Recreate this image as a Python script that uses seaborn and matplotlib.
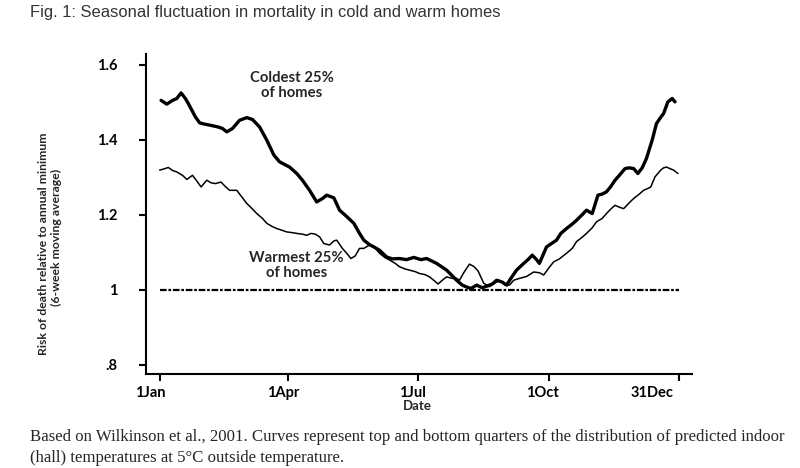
import numpy as np
import pandas as pd
import matplotlib
matplotlib.use("Agg")
import matplotlib.pyplot as plt
import matplotlib.transforms as mtransforms
import seaborn as sns

# day of year (0 = 1 Jan) and risk
cold_days = [1, 5, 9, 12, 15, 18, 20, 25, 28, 31, 35, 41, 44, 47, 51, 56, 61, 65, 70, 75,
             80, 84, 91, 96, 100, 105, 110, 114, 117, 122, 126, 131, 136, 140, 143, 147, 150,
             154, 159, 163, 168, 173, 178, 183, 187, 194, 201, 208, 212, 215, 218, 222, 226,
             229, 233, 236, 240, 243, 246, 250, 255, 258, 261, 264, 266, 271, 278, 281, 285,
             289, 292, 296, 299, 303, 307, 310, 313, 316, 319, 322, 326, 329, 332, 335, 338,
             341, 345, 348, 351, 353, 356, 359, 361]
cold_risk = [1.505, 1.495, 1.505, 1.51, 1.525, 1.51, 1.497, 1.461, 1.445, 1.442, 1.439, 1.434,
             1.43, 1.421, 1.43, 1.452, 1.459, 1.454, 1.434, 1.399, 1.359, 1.341, 1.327, 1.31,
             1.292, 1.265, 1.234, 1.243, 1.252, 1.245, 1.212, 1.195, 1.177, 1.15, 1.132, 1.12,
             1.114, 1.105, 1.087, 1.082, 1.083, 1.08, 1.086, 1.08, 1.083, 1.07, 1.052, 1.025,
             1.012, 1.007, 1.003, 1.012, 1.005, 1.009, 1.015, 1.025, 1.02, 1.012, 1.03, 1.052,
             1.07, 1.08, 1.092, 1.08, 1.07, 1.114, 1.132, 1.15, 1.163, 1.175, 1.185, 1.2, 1.212,
             1.203, 1.252, 1.255, 1.261, 1.275, 1.292, 1.305, 1.323, 1.325, 1.323, 1.31, 1.325,
             1.35, 1.399, 1.443, 1.46, 1.47, 1.501, 1.51, 1.501]

warm_days = [0, 3, 6, 9, 12, 16, 19, 23, 26, 29, 33, 36, 39, 43, 46, 49, 54, 58, 61, 65, 68,
             72, 75, 79, 82, 86, 89, 93, 96, 100, 103, 106, 109, 112, 115, 119, 122, 124, 128,
             131, 134, 137, 140, 143, 147, 150, 154, 158, 161, 165, 168, 172, 175, 179, 182,
             186, 189, 192, 195, 198, 201, 205, 208, 210, 213, 217, 220, 223, 227, 231, 235,
             238, 242, 245, 248, 252, 257, 262, 266, 269, 273, 276, 280, 285, 289, 292, 296,
             299, 303, 306, 310, 313, 316, 319, 322, 325, 329, 332, 336, 339, 342, 344, 347,
             351, 353, 355, 358, 360, 363]
warm_risk = [1.319, 1.322, 1.326, 1.318, 1.314, 1.305, 1.294, 1.305, 1.29, 1.274, 1.292, 1.285,
             1.283, 1.287, 1.275, 1.265, 1.265, 1.245, 1.23, 1.215, 1.203, 1.19, 1.177, 1.168,
             1.163, 1.158, 1.154, 1.152, 1.15, 1.148, 1.145, 1.15, 1.148, 1.141, 1.123, 1.119,
             1.13, 1.132, 1.11, 1.097, 1.083, 1.09, 1.11, 1.11, 1.119, 1.115, 1.097, 1.085,
             1.079, 1.07, 1.061, 1.055, 1.052, 1.048, 1.043, 1.04, 1.034, 1.025, 1.015, 1.025,
             1.034, 1.03, 1.03, 1.025, 1.045, 1.068, 1.062, 1.05, 1.017, 1.008, 1.018, 1.025,
             1.012, 1.012, 1.025, 1.03, 1.035, 1.047, 1.045, 1.039, 1.06, 1.074, 1.082, 1.097,
             1.11, 1.128, 1.14, 1.15, 1.165, 1.181, 1.19, 1.203, 1.215, 1.225, 1.22, 1.216,
             1.232, 1.243, 1.255, 1.265, 1.27, 1.274, 1.301, 1.319, 1.325, 1.327, 1.322, 1.319,
             1.31]

tick_days = [0, 90, 181, 273, 364]
tick_names = ["1Jan", "1Apr", "1Jul", "1Oct", "31Dec"]
y_ticks = [0.8, 1.0, 1.2, 1.4, 1.6]
y_names = [".8", "1", "1.2", "1.4", "1.6"]

cold = pd.DataFrame({"day": cold_days, "risk": cold_risk})
warm = pd.DataFrame({"day": warm_days, "risk": warm_risk})
base = pd.DataFrame({"day": [0, 364], "risk": [1.0, 1.0]})

sns.set_style("ticks")
plt.rcParams['font.family'] = ['Lato', 'DejaVu Sans']

fig = plt.figure(figsize=(8, 4.68), dpi=100)
ax = fig.add_axes([0.183, 0.201, 0.682, 0.683])

sns.lineplot(data=base, x="day", y="risk", ax=ax, color="black", lw=1.6,
             dashes=False, linestyle=(0, (3, 0.8, 1.2, 0.8)))
sns.lineplot(data=warm, x="day", y="risk", ax=ax, color="black", lw=1.1)
sns.lineplot(data=cold, x="day", y="risk", ax=ax, color="black", lw=2.4)

ax.set_xlim(-9.3, 372.9)
ax.set_ylim(0.775, 1.628)
ax.set_xticks(tick_days)
ax.set_xticklabels(tick_names, fontsize=10.5, fontweight="bold")
ax.set_yticks(y_ticks)
ax.set_yticklabels(y_names, fontsize=10.5, fontweight="bold")
ax.tick_params(axis="y", length=5, width=1.5, pad=16, colors="black")
ax.tick_params(axis="x", length=5, width=1.5, pad=4, colors="black")
for s in ["left", "bottom"]:
    ax.spines[s].set_linewidth(1.5)
    ax.spines[s].set_color("black")
sns.despine(ax=ax)
ax.set_xlabel("")
ax.set_ylabel("")

# labels sit a little left of their ticks in the original
shifts = [-9, -5, -6, -7, -27]
for lab, dx in zip(ax.get_xticklabels(), shifts):
    lab.set_transform(lab.get_transform() +
                      mtransforms.ScaledTranslation(dx / 100, 0, fig.dpi_scale_trans))

ax.text(92.5, 1.545, "Coldest 25%\nof homes", ha="center", va="center",
        fontsize=10.7, fontweight="bold", linespacing=1.05)
ax.text(96, 1.065, "Warmest 25%\nof homes", ha="center", va="center",
        fontsize=10.7, fontweight="bold", linespacing=1.05)

fig.text(417 / 800, 1 - 406 / 468, "Date", ha="center", va="center",
         fontsize=9.5, fontweight="bold")
fig.text(44 / 800, 1 - 244 / 468, "Risk of death relative to annual minimum",
         rotation=90, ha="center", va="center", fontsize=8.8, fontweight="bold")
fig.text(56 / 800, 1 - 237 / 468, "(6-week moving average)",
         rotation=90, ha="center", va="center", fontsize=8.8, fontweight="bold")

fig.text(30 / 800, 1 - 13 / 468,
         "Fig. 1: Seasonal fluctuation in mortality in cold and warm homes",
         ha="left", va="center", fontsize=11.9, family="Liberation Sans", color="#333333")
fig.text(30 / 800, 1 - 437 / 468,
         "Based on Wilkinson et al., 2001. Curves represent top and bottom quarters of the "
         "distribution of predicted indoor",
         ha="left", va="center", fontsize=12.1, family="Liberation Serif")
fig.text(30 / 800, 1 - 458 / 468,
         "(hall) temperatures at 5\u00b0C outside temperature.",
         ha="left", va="center", fontsize=12.1, family="Liberation Serif")

plt.savefig("out.png", dpi=100)
